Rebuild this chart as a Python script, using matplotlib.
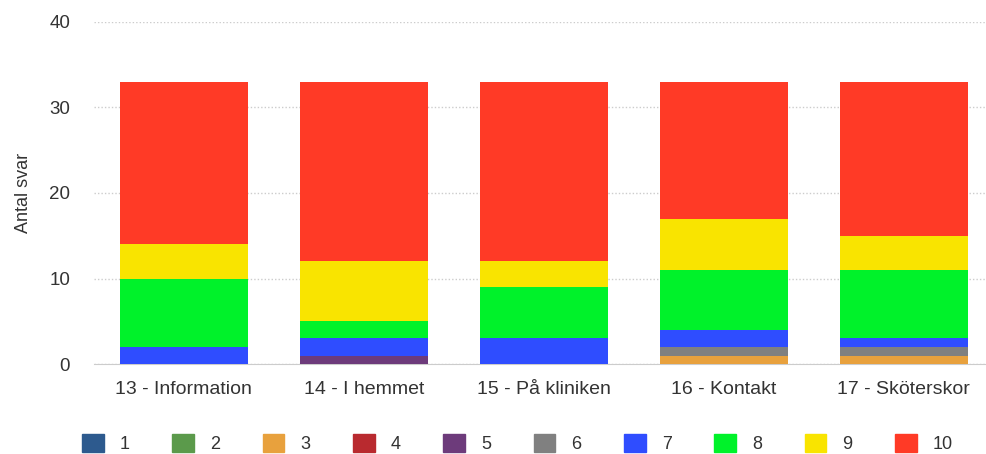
import numpy as np
import matplotlib.pyplot as plt

plt.rcParams['font.family'] = ['Liberation Sans', 'DejaVu Sans']

categories = ['13 - Information', '14 - I hemmet', '15 - På kliniken', '16 - Kontakt', '17 - Sköterskor']
labels = ['1', '2', '3', '4', '5', '6', '7', '8', '9', '10']
colors = ['#2d5a8e', '#5b9a4b', '#e8a13d', '#b92a2f', '#6d3b7b', '#808080',
          '#2f4dff', '#00f22a', '#f9e400', '#ff3a26']

# number of answers with each score (1..10), one value per category
s1 = [0, 0, 0, 0, 0]
s2 = [0, 0, 0, 0, 0]
s3 = [0, 0, 0, 1, 1]
s4 = [0, 0, 0, 0, 0]
s5 = [0, 1, 0, 0, 0]
s6 = [0, 0, 0, 1, 1]
s7 = [2, 2, 3, 2, 1]
s8 = [8, 2, 6, 7, 8]
s9 = [4, 7, 3, 6, 4]
s10 = [19, 21, 21, 16, 18]
series = [s1, s2, s3, s4, s5, s6, s7, s8, s9, s10]

fig = plt.figure(figsize=(9.86, 4.54), dpi=100)
ax = fig.add_axes([0.095, 0.198, 0.913, 0.754])

x = np.arange(len(categories))
bottom = np.zeros(len(categories))
for vals, col, lab in zip(series, colors, labels):
    ax.bar(x, vals, bottom=bottom, width=0.71, color=col, label=lab, zorder=3)
    bottom += np.array(vals)

ax.set_ylim(0, 40)
ax.set_xlim(-0.5, 4.5)
ax.set_yticks([0, 10, 20, 30, 40])
ax.set_xticks(x)
ax.set_xticklabels(categories, fontsize=14, color='#333333')
ax.tick_params(axis='y', labelsize=13.5, colors='#333333', length=0, pad=17)
ax.tick_params(axis='x', length=0, pad=12)
for sp in ['top', 'right', 'left']:
    ax.spines[sp].set_visible(False)
ax.spines['bottom'].set_color('#cccccc')
ax.yaxis.grid(True, linestyle=(0, (1, 1.5)), color='#cccccc', linewidth=1, zorder=0)
ax.set_ylabel('Antal svar', fontsize=13, color='#333333', labelpad=12)

fig.legend(handles=[plt.Rectangle((0, 0), 1, 1, color=c) for c in colors], labels=labels,
           loc='center left', bbox_to_anchor=(0.083, 0.023), ncol=10, frameon=False,
           fontsize=13, handlelength=1.2, handleheight=1.2, columnspacing=2.35,
           handletextpad=0.9, labelcolor='#333333', borderaxespad=0, borderpad=0)

fig.savefig('out.png', dpi=100)
